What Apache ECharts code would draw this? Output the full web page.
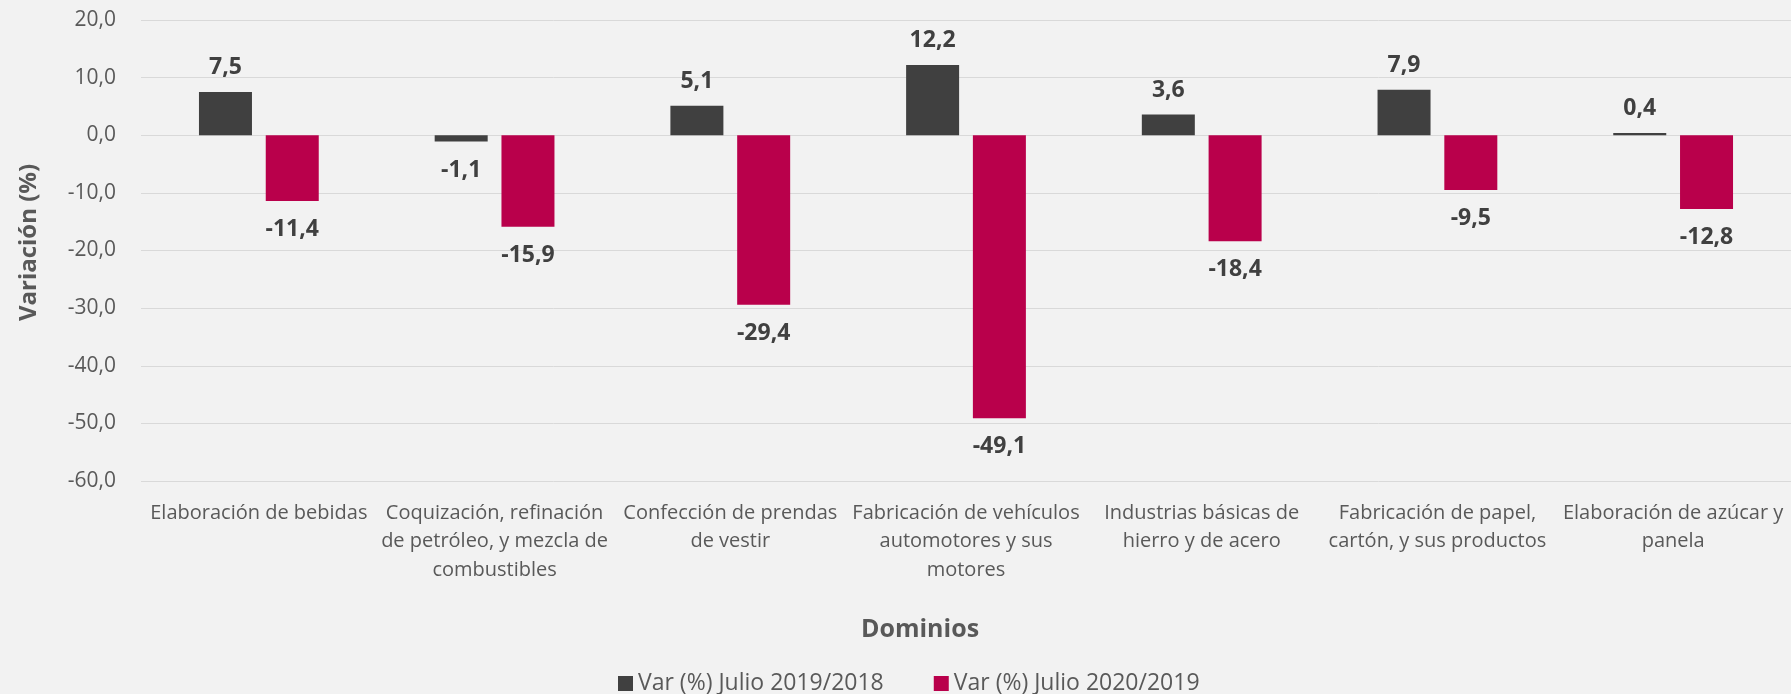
<!DOCTYPE html>
<html>
<head>
<meta charset="utf-8">
<script src="https://cdn.jsdelivr.net/npm/echarts@6/dist/echarts.min.js"></script>
<style>
  html, body { margin: 0; padding: 0; background: #f2f2f2; }
  #chart { width: 1791px; height: 694px; }
</style>
</head>
<body>
<div id="chart"></div>
<script>
// Dominios (categorías del eje X)
const dominios = [
    'Elaboración de bebidas',
    'Coquización, refinación\nde petróleo, y mezcla de\ncombustibles',
    'Confección de prendas\nde vestir',
    'Fabricación de vehículos\nautomotores y sus\nmotores',
    'Industrias básicas de\nhierro y de acero',
    'Fabricación de papel,\ncartón, y sus productos',
    'Elaboración de azúcar y\npanela'
];

const serie2019 = [7.5, -1.1, 5.1, 12.2, 3.6, 7.9, 0.4];
const serie2020 = [-11.4, -15.9, -29.4, -49.1, -18.4, -9.5, -12.8];

const nombres = ['Var (%) Julio 2019/2018', 'Var (%) Julio 2020/2019'];
const colores = ['#404040', '#b9004b'];

const FONT = '"Open Sans", "Noto Sans", sans-serif';
const fmt = v => v.toFixed(1).replace('.', ',');

const chart = echarts.init(document.getElementById('chart'));

// etiqueta arriba si es positivo, abajo si es negativo
const conEtiqueta = valores => valores.map(v => ({
    value: v,
    label: {
        position: v >= 0 ? 'top' : 'bottom',
        distance: v >= 0 ? 13 : 17
    }
}));

const serieBase = (nombre, color, valores) => ({
    name: nombre,
    type: 'bar',
    barWidth: 53,
    barGap: '26%',
    itemStyle: { color: color },
    label: {
        show: true,
        color: '#404040',
        fontFamily: FONT,
        fontWeight: 'bold',
        fontSize: 23,
        formatter: p => fmt(p.value)
    },
    data: conEtiqueta(valores)
});

const option = {
    backgroundColor: '#f2f2f2',
    animation: false,
    grid: { left: 141, right: 0, top: 20, bottom: 213 },
    title: {
        text: 'Dominios',
        left: 915,
        top: 612,
        textAlign: 'center',
        textStyle: { color: '#595959', fontFamily: FONT, fontWeight: 'bold', fontSize: 25 }
    },
    legend: {
        left: 613,
        top: 667,
        itemWidth: 15,
        itemHeight: 15,
        itemGap: 50,
        icon: 'rect',
        textStyle: { color: '#595959', fontFamily: FONT, fontSize: 23 },
        data: nombres
    },
    xAxis: {
        type: 'category',
        data: dominios,
        axisLine: { show: false },
        axisTick: { show: false },
        axisLabel: {
            interval: 0,
            margin: 18,
            color: '#595959',
            fontFamily: FONT,
            fontSize: 20,
            lineHeight: 28.5
        }
    },
    yAxis: {
        type: 'value',
        min: -60,
        max: 20,
        interval: 10,
        name: 'Variación (%)',
        nameLocation: 'middle',
        nameGap: 100,
        nameTextStyle: {
            color: '#595959', fontFamily: FONT, fontWeight: 'bold', fontSize: 24,
            padding: [0, 0, 0, 16]
        },
        axisLabel: {
            margin: 25,
            color: '#595959',
            fontFamily: FONT,
            fontSize: 21,
            formatter: v => fmt(v)
        },
        splitLine: { lineStyle: { color: '#d9d9d9', width: 1 } }
    },
    series: [
        serieBase(nombres[0], colores[0], serie2019),
        serieBase(nombres[1], colores[1], serie2020)
    ]
};

chart.setOption(option);
</script>
</body>
</html>
